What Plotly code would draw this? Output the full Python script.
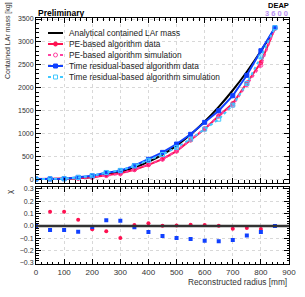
import plotly.graph_objects as go

radius = [0, 50, 100, 150, 200, 250, 300, 350, 400, 450, 500, 550, 600, 650, 700, 750, 800, 850]
analytical = [0, 1, 6, 20, 47, 91, 158, 251, 374, 533, 731, 972, 1257, 1579, 1942, 2347, 2798, 3296]
pe_data = [0, 1, 6, 18, 40, 78, 125, 205, 310, 437, 612, 853, 1094, 1378, 1650, 2100, 2550, 3300]
pe_sim = [0, 1, 7, 19, 39, 75, 113, 207, 317, 438, 615, 862, 1103, 1382, 1614, 2066, 2489, 3300]
tr_data = [0, 4, 7, 37, 72, 138, 182, 291, 431, 583, 766, 978, 1240, 1494, 1823, 2268, 2807, 3312]
tr_sim = [0, 4, 7, 35, 71, 144, 190, 288, 410, 536, 692, 875, 1092, 1309, 1617, 2091, 2670, 3310]

chi_pe = [0.0, 0.116, 0.116, 0.05, -0.027, -0.043, -0.097, 0.008, 0.022, 0.003, 0.005, 0.011, 0.008, 0.003, -0.022, -0.016, -0.024, 0.0]
chi_tr = [0.0, -0.032, -0.032, -0.046, -0.008, 0.046, 0.043, -0.011, -0.049, -0.081, -0.097, -0.105, -0.119, -0.124, -0.113, -0.078, -0.049, 0.0]

legend_labels = ["Analytical contained LAr mass", "PE-based algorithm data", "PE-based algorithm simulation",
                 "Time residual-based algorithm data", "Time residual-based algorithm simulation"]

RED = "#ff1050"
PINK = "#ff40a0"
BLUE = "#1040ff"
CYAN = "#40c8ff"
FONT = "Liberation Sans, Arial, sans-serif"

W, H = 305, 297
ML, MR, MT, MB = 36, 16, 18, 33
PW, PH = W - ML - MR, H - MT - MB


def px(xp):
    return (xp - ML) / PW


def py(yp):
    return (H - MB - yp) / PH


styles = [
    dict(color="black", dash="solid", symbol=None),
    dict(color=RED, dash="solid", symbol="circle"),
    dict(color=PINK, dash="dot", symbol="circle-open"),
    dict(color=BLUE, dash="solid", symbol="square"),
    dict(color=CYAN, dash="dot", symbol="square-open"),
]
series = [analytical, pe_data, pe_sim, tr_data, tr_sim]

fig = go.Figure()
for i, (vals, st, lab) in enumerate(zip(series, styles, legend_labels)):
    if st["symbol"] is None:
        fig.add_trace(go.Scatter(x=radius, y=vals, mode="lines",
                                 line=dict(color=st["color"], width=2, shape="spline"),
                                 name=lab, xaxis="x", yaxis="y"))
    else:
        fig.add_trace(go.Scatter(x=radius, y=vals, mode="lines+markers",
                                 line=dict(color=st["color"], width=2, dash=st["dash"]),
                                 marker=dict(symbol=st["symbol"], size=4, color=st["color"],
                                             line=dict(color=st["color"], width=1)),
                                 name=lab, xaxis="x", yaxis="y"))

fig.add_trace(go.Scatter(x=radius, y=chi_pe, mode="markers", marker=dict(symbol="circle", size=4, color=RED),
                         showlegend=False, xaxis="x2", yaxis="y2"))
fig.add_trace(go.Scatter(x=radius, y=chi_tr, mode="markers", marker=dict(symbol="square", size=4, color=BLUE),
                         showlegend=False, xaxis="x2", yaxis="y2"))

axis_common = dict(showline=True, linecolor="black", linewidth=1, mirror="ticks", ticks="inside",
                   ticklen=5, tickcolor="black", showgrid=True, gridcolor="#d8d8d8", griddash="dot",
                   gridwidth=1, zeroline=False, automargin=False)
xfont = dict(size=8, color="#333", family=FONT)
yfont = dict(size=7, color="#333", family=FONT)

fig.update_layout(
    width=W, height=H,
    margin=dict(l=ML, r=MR, t=MT, b=MB),
    paper_bgcolor="white", plot_bgcolor="white",
    font=dict(family=FONT, size=8, color="#333"),
    showlegend=False,
    xaxis=dict(range=[0, 900], domain=[0, 1], anchor="y", dtick=100, showticklabels=False,
               minor=dict(ticks="inside", ticklen=2.5, dtick=20, tickcolor="black"), **axis_common),
    yaxis=dict(range=[-77, 3522], domain=[0.331, 1], anchor="x", dtick=500, tickfont=yfont,
               minor=dict(ticks="inside", ticklen=2.5, dtick=100, tickcolor="black"), **axis_common),
    xaxis2=dict(range=[0, 900], domain=[0, 1], anchor="y2", dtick=100, tickfont=xfont,
                minor=dict(ticks="inside", ticklen=2.5, dtick=20, tickcolor="black"), **axis_common),
    yaxis2=dict(range=[-0.308, 0.32], domain=[0, 0.315], anchor="x2", dtick=0.1, tickformat=".1f",
                tickfont=yfont,
                minor=dict(ticks="inside", ticklen=2.5, dtick=0.02, tickcolor="black"), **axis_common),
)

fig.add_shape(type="line", xref="x2 domain", yref="y2", x0=0, x1=1, y0=0, y1=0,
              line=dict(color="#333", width=2.5))

# custom compact legend (ROOT-like)
for i, (st, lab) in enumerate(zip(styles, legend_labels)):
    yr = 33 + 11 * i
    fig.add_shape(type="line", xref="paper", yref="paper", x0=px(48), x1=px(63), y0=py(yr), y1=py(yr),
                  line=dict(color=st["color"], width=2, dash=st["dash"]))
    if st["symbol"] is not None:
        shp = "circle" if "circle" in st["symbol"] else "rect"
        filled = "open" not in st["symbol"]
        fig.add_shape(type=shp, xref="paper", yref="paper", x0=px(53.5), x1=px(57.5),
                      y0=py(yr + 2), y1=py(yr - 2),
                      line=dict(color=st["color"], width=1),
                      fillcolor=st["color"] if filled else "white")
    fig.add_annotation(xref="paper", yref="paper", x=px(67), y=py(yr), xanchor="left", yanchor="middle",
                       text=lab, showarrow=False, font=dict(size=8.3, color="#222", family=FONT))

annos = [
    dict(text="Contained LAr mass [kg]", x=px(8), y=py(41), textangle=-90, xanchor="center", yanchor="middle",
         font=dict(size=7, color="#333")),
    dict(text="χ", x=px(9), y=py(192), textangle=-90, xanchor="center", yanchor="middle",
         font=dict(size=8, color="#333")),
    dict(text="Reconstructed radius [mm]", x=1.0, y=py(282), xanchor="right", yanchor="middle",
         font=dict(size=8.3, color="#333")),
    dict(text="<b>Preliminary</b>", x=px(36), y=py(13), xanchor="left", yanchor="middle",
         font=dict(size=8.5, color="black")),
    dict(text="<b>DEAP</b>", x=px(291), y=py(6), xanchor="right", yanchor="middle",
         font=dict(size=7.5, color="black")),
    dict(text="<b>3 6 0 0</b>", x=px(290), y=py(14), xanchor="right", yanchor="middle",
         font=dict(size=7.5, color="#b890f0")),
]
for a in annos:
    fig.add_annotation(xref="paper", yref="paper", showarrow=False, **a)

fig.write_html("out.html", config={"displayModeBar": False},
               post_script="document.body.style.margin='0px';document.body.style.padding='0px';")
